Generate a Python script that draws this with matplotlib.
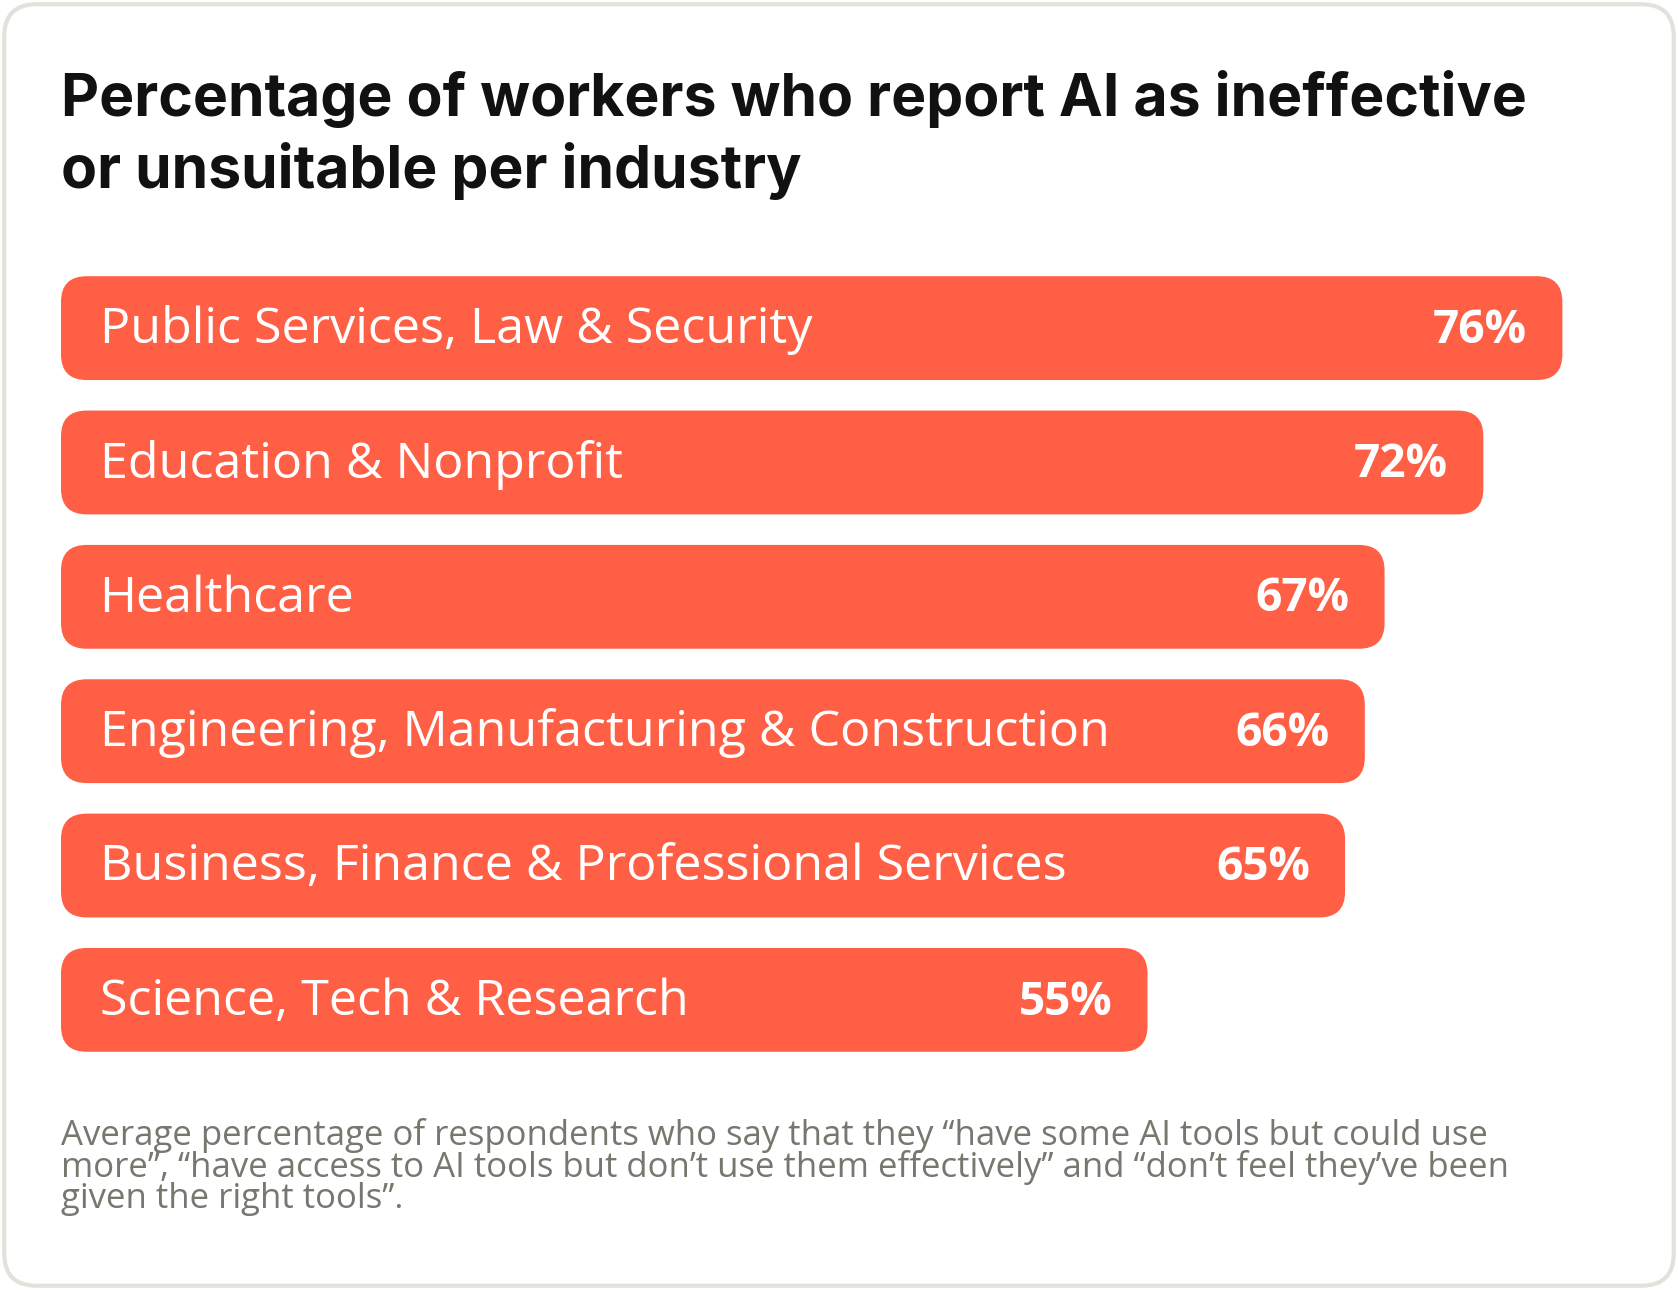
import matplotlib.pyplot as plt
from matplotlib.patches import FancyBboxPatch

categories = ["Public Services, Law & Security", "Education & Nonprofit", "Healthcare",
              "Engineering, Manufacturing & Construction",
              "Business, Finance & Professional Services", "Science, Tech & Research"]
values = [76, 72, 67, 66, 65, 55]
title = "Percentage of workers who report AI as ineffective\nor unsuitable per industry"
note = ("Average percentage of respondents who say that they \u201chave some AI tools but could use\n"
        "more\u201d, \u201chave access to AI tools but don\u2019t use them effectively\u201d and \u201cdon\u2019t feel they\u2019ve been\n"
        "given the right tools\u201d.")

W, H = 1568, 1205
fig = plt.figure(figsize=(16.78, 12.90), dpi=100)
ax = fig.add_axes([0, 0, 1, 1])
ax.set_xlim(0, W)
ax.set_ylim(H, 0)
ax.axis("off")
s = 1678 / 1568  # px -> pt scale factor at dpi 100

def fs(px):
    return px * 0.72 * s

ax.add_patch(FancyBboxPatch((4, 4), W - 8, H - 8, boxstyle="round,pad=0,rounding_size=30",
                            fc="white", ec="#e2e2dc", lw=3))
ax.text(57, 126, title, fontsize=fs(55), fontweight="bold", family="Inter",
        va="center", ha="left", linespacing=1.3, color="#111111")

px_per_pct = 18.46
x0, y0, h, step = 57, 258, 97, 125.5
for i, (c, v) in enumerate(zip(categories, values)):
    y = y0 + i * step
    w = v * px_per_pct
    ax.add_patch(FancyBboxPatch((x0, y), w, h, boxstyle="round,pad=0,rounding_size=24",
                                fc="#ff5f45", ec="none"))
    ax.text(x0 + 36, y + h / 2 + 2, c, fontsize=fs(47), color="white",
            family="Open Sans", va="center", ha="left")
    ax.text(x0 + w - 33, y + h / 2 + 2, f"{v}%", fontsize=fs(43), color="white",
            fontweight="bold", family="Open Sans", va="center", ha="right")

ax.text(57, 1090, note, fontsize=fs(32.5), color="#77776f", family="Open Sans",
        va="center", ha="left", linespacing=0.9)

fig.savefig("out.png", dpi=100)
